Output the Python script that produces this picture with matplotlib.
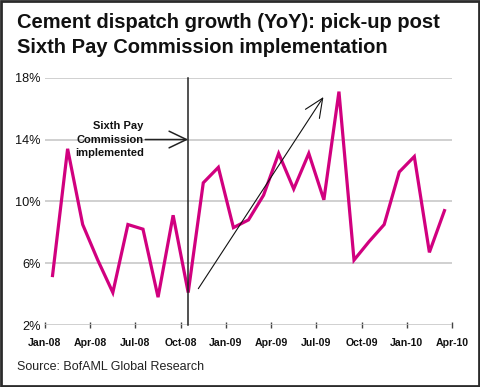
import matplotlib
matplotlib.use('Agg')
import matplotlib.pyplot as plt
from matplotlib.patches import Rectangle

# monthly YoY growth, Jan-08 .. Mar-10
growth = [5.2, 13.4, 8.5, 6.2, 4.1, 8.5, 8.2, 3.8, 9.1, 4.1, 11.2, 12.2,
          8.3, 8.8, 10.4, 13.1, 10.8, 13.1, 10.1, 17.1, 6.2, 7.4, 8.5, 11.9,
          12.9, 6.7, 9.4]
tick_labels = ['Jan-08', 'Apr-08', 'Jul-08', 'Oct-08', 'Jan-09', 'Apr-09',
               'Jul-09', 'Oct-09', 'Jan-10', 'Apr-10']
y_ticks = [2, 6, 10, 14, 18]
pay_commission_month = 9  # Oct-08

plt.rcParams['font.family'] = ['Liberation Sans', 'DejaVu Sans']

fig = plt.figure(figsize=(4.8, 3.87), dpi=100)
ax = fig.add_axes([45/480, 1-325/387, 407/480, (325-77.7)/387])

months = [i + 0.5 for i in range(len(growth))]
ax.plot(months, growth, color='#d1007f', lw=2.3, solid_joinstyle='miter', zorder=3)

ax.set_xlim(0, 27)
ax.set_ylim(2, 18)
ax.set_yticks(y_ticks)
ax.set_yticklabels([f'{v}%' for v in y_ticks], fontsize=9.2, color='#111111')
ax.set_xticks(range(0, 28, 3))
ax.set_xticklabels(tick_labels, fontsize=7.6, fontweight='bold', color='#111111')
ax.tick_params(axis='y', length=0, pad=3)
ax.tick_params(axis='x', direction='inout', length=5, width=1, color='#444444', pad=7)
for s in ax.spines.values():
    s.set_visible(False)
ax.yaxis.grid(True, color='#c4c4c4', lw=1.1)
ax.set_axisbelow(True)

# marker for the Sixth Pay Commission
xv = months[pay_commission_month]
ax.plot([xv, xv], [2, 18], color='#222222', lw=1.1, zorder=4, clip_on=False)
ax.text(6.55, 14, 'Sixth Pay\nCommission\nimplemented', ha='right', va='center',
        multialignment='right', fontsize=8, fontweight='bold',
        color='#111111', linespacing=1.45)
ax.annotate('', xy=(xv, 14), xytext=(6.65, 14),
            arrowprops=dict(arrowstyle='->,head_length=1.25,head_width=0.6',
                            mutation_scale=10, color='#222222', lw=1.1,
                            shrinkA=0, shrinkB=0), zorder=5)
ax.annotate('', xy=(18.47, 16.75), xytext=(10.17, 4.35),
            arrowprops=dict(arrowstyle='->,head_length=1.35,head_width=0.6',
                            mutation_scale=10, color='#111111', lw=0.8,
                            shrinkA=0, shrinkB=0), zorder=5)

fig.text(17/480, 1-28/387, 'Cement dispatch growth (YoY): pick-up post',
         ha='left', va='baseline', fontsize=14.5, fontweight='bold', color='#111111')
fig.text(17/480, 1-53/387, 'Sixth Pay Commission implementation',
         ha='left', va='baseline', fontsize=14.5, fontweight='bold', color='#111111')
fig.text(17/480, 1-367/387, 'Source: BofAML Global Research', ha='left', va='center',
         fontsize=9, color='#222222')

fig.patches.append(Rectangle((0.002, 0.003), 0.996, 0.994, transform=fig.transFigure,
                             fill=False, edgecolor='#2b2b2b', lw=2))

fig.savefig('out.png', dpi=100)
